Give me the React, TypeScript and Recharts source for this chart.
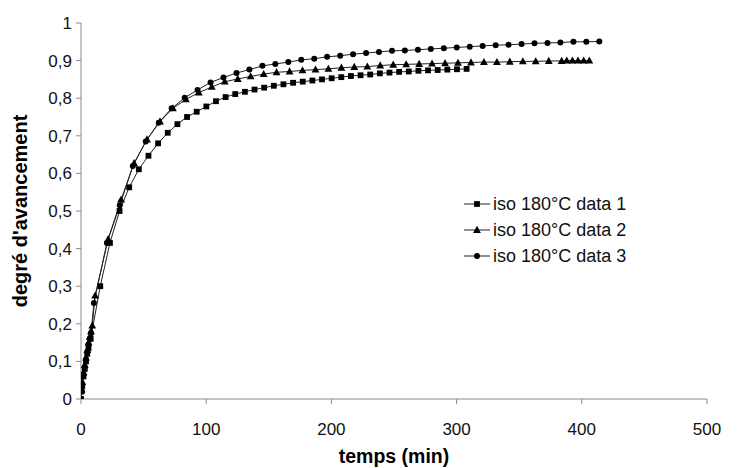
import React from 'react';
import { LineChart, Line, XAxis, YAxis, Label } from 'recharts';

const xTicks = [0, 100, 200, 300, 400, 500];
const yTicks = [0, 0.1, 0.2, 0.3, 0.4, 0.5, 0.6, 0.7, 0.8, 0.9, 1];
const seriesNames = ['iso 180°C data 1', 'iso 180°C data 2', 'iso 180°C data 3'];
const xTitle = 'temps (min)';
const yTitle = "degré d'avancement";

const times1 = [0, 0.5, 1, 2, 3, 4, 5, 6, 7.7, 15.4, 23.1, 30.8, 38.5, 46.2, 53.9, 61.6, 69.3, 77, 84.7, 92.4, 100.1, 107.8, 115.5, 123.2, 130.9, 138.6, 146.3, 154, 161.7, 169.4, 177.1, 184.8, 192.5, 200.2, 207.9, 215.6, 223.3, 231, 238.7, 246.4, 254.1, 261.8, 269.5, 277.2, 284.9, 292.6, 300.3, 308];
const values1 = [0, 0.02, 0.035, 0.06, 0.08, 0.1, 0.12, 0.135, 0.16, 0.3, 0.415, 0.5, 0.563, 0.611, 0.647, 0.68, 0.708, 0.731, 0.75, 0.764, 0.778, 0.792, 0.803, 0.811, 0.817, 0.823, 0.828, 0.833, 0.837, 0.841, 0.844, 0.847, 0.85, 0.853, 0.856, 0.859, 0.861, 0.863, 0.866, 0.868, 0.87, 0.871, 0.873, 0.874, 0.875, 0.876, 0.877, 0.878];

const times2 = [0, 0.5, 1, 2, 3, 4, 5, 6, 7, 8, 9, 11.3, 21.7, 32, 42.4, 52.7, 63.1, 73.4, 83.8, 94.1, 104.5, 114.8, 125.2, 135.5, 145.9, 156.2, 166.6, 176.9, 187.3, 197.6, 208, 218.3, 228.7, 239, 249.4, 259.7, 270.1, 280.4, 290.8, 301.1, 311.5, 321.8, 332.2, 342.5, 352.9, 363.2, 373.6, 383.9, 388, 392.5, 397, 401.5, 406];
const values2 = [0, 0.025, 0.045, 0.07, 0.09, 0.11, 0.13, 0.15, 0.165, 0.18, 0.195, 0.275, 0.425, 0.53, 0.627, 0.69, 0.738, 0.773, 0.797, 0.815, 0.83, 0.844, 0.851, 0.858, 0.864, 0.869, 0.871, 0.874, 0.876, 0.878, 0.881, 0.883, 0.884, 0.887, 0.889, 0.89, 0.891, 0.892, 0.893, 0.894, 0.895, 0.896, 0.896, 0.897, 0.898, 0.898, 0.899, 0.899, 0.9, 0.9, 0.9, 0.9, 0.9];

const times3 = [0, 0.5, 1, 2, 3, 4, 5, 6, 7, 8, 10.3, 20.7, 31, 41.4, 51.7, 62.1, 72.4, 82.8, 93.1, 103.5, 113.8, 124.2, 134.5, 144.9, 155.2, 165.6, 175.9, 186.3, 196.6, 207, 217.3, 227.7, 238, 248.4, 258.7, 269.1, 279.4, 289.8, 300.1, 310.5, 320.8, 331.2, 341.5, 351.9, 362.2, 372.6, 382.9, 393.3, 403.6, 414];
const values3 = [0, 0.02, 0.04, 0.065, 0.085, 0.105, 0.125, 0.145, 0.16, 0.175, 0.255, 0.415, 0.515, 0.62, 0.685, 0.735, 0.773, 0.801, 0.822, 0.842, 0.855, 0.867, 0.876, 0.886, 0.891, 0.896, 0.902, 0.905, 0.91, 0.913, 0.917, 0.92, 0.923, 0.926, 0.927, 0.929, 0.931, 0.933, 0.935, 0.937, 0.939, 0.941, 0.942, 0.944, 0.946, 0.947, 0.948, 0.95, 0.95, 0.951];

const zip = (ts: number[], vs: number[]) => ts.map((t, i) => ({ t, v: vs[i] }));
const data1 = zip(times1, values1);
const data2 = zip(times2, values2);
const data3 = zip(times3, values3);

const FONT = '"Liberation Sans", Arial, sans-serif';
const LINE_COLOR = '#222';
const AXIS_COLOR = '#8a8a8a';

const SquareDot = (p: any) => {
  if (p.cx == null || p.cy == null) return <g key={p.index} />;
  return <rect key={p.index} x={p.cx - 2.9} y={p.cy - 2.9} width={5.8} height={5.8} fill="#000" />;
};
const TriDot = (p: any) => {
  if (p.cx == null || p.cy == null) return <g key={p.index} />;
  const { cx, cy } = p;
  return (
    <polygon
      key={p.index}
      points={`${cx},${cy - 4.2} ${cx - 3.9},${cy + 2.9} ${cx + 3.9},${cy + 2.9}`}
      fill="#000"
    />
  );
};
const CircleDot = (p: any) => {
  if (p.cx == null || p.cy == null) return <g key={p.index} />;
  return <circle key={p.index} cx={p.cx} cy={p.cy} r={3} fill="#000" />;
};

const YTitle = (props: any) => {
  const vb = props.viewBox || { y: 23, height: 376 };
  const cx = 20;
  const cy = vb.y + vb.height / 2;
  return (
    <text
      x={cx}
      y={cy}
      transform={`rotate(-90 ${cx} ${cy})`}
      textAnchor="middle"
      dominantBaseline="central"
      fontFamily={FONT}
      fontWeight="bold"
      fontSize={20}
      fill="#000"
    >
      {yTitle}
    </text>
  );
};

const XTitle = (props: any) => {
  const vb = props.viewBox || { x: 81, width: 626 };
  const cx = vb.x + vb.width / 2;
  return (
    <text
      x={cx}
      y={463}
      textAnchor="middle"
      fontFamily={FONT}
      fontWeight="bold"
      fontSize={19.5}
      fill="#000"
    >
      {xTitle}
    </text>
  );
};

const LegendSymbol = ({ kind }: { kind: number }) => (
  <svg width={26} height={12} style={{ display: 'block' }}>
    <line x1={0} y1={6} x2={26} y2={6} stroke={LINE_COLOR} strokeWidth={1} />
    {kind === 0 && <rect x={10.1} y={3.1} width={5.8} height={5.8} fill="#000" />}
    {kind === 1 && <polygon points="13,1.8 9.1,8.9 16.9,8.9" fill="#000" />}
    {kind === 2 && <circle cx={13} cy={6} r={3} fill="#000" />}
  </svg>
);

export default function App() {
  return (
    <div style={{ position: 'absolute', left: 0, top: 0, width: 746, height: 468, background: '#fff' }}>
      <LineChart
        width={746}
        height={468}
        margin={{ top: 23, right: 39, left: 21, bottom: 29 }}
      >
        <XAxis
          type="number"
          dataKey="t"
          domain={[0, 500]}
          ticks={xTicks}
          allowDataOverflow
          height={40}
          tickSize={5}
          tickMargin={19}
          stroke={AXIS_COLOR}
          tick={{ fill: '#111', fontSize: 17, fontFamily: FONT }}
          tickLine={{ stroke: AXIS_COLOR }}
          axisLine={{ stroke: AXIS_COLOR }}
        >
          <Label content={XTitle} />
        </XAxis>
        <YAxis
          type="number"
          dataKey="v"
          domain={[0, 1]}
          ticks={yTicks}
          allowDataOverflow
          width={60}
          tickSize={5}
          tickMargin={4}
          stroke={AXIS_COLOR}
          tick={{ fill: '#111', fontSize: 17, fontFamily: FONT }}
          tickLine={{ stroke: AXIS_COLOR }}
          axisLine={{ stroke: AXIS_COLOR }}
          tickFormatter={(v: number) => String(v).replace('.', ',')}
        >
          <Label content={YTitle} />
        </YAxis>
        <Line
          data={data1}
          dataKey="v"
          name={seriesNames[0]}
          type="linear"
          stroke={LINE_COLOR}
          strokeWidth={1}
          dot={SquareDot}
          activeDot={false}
          isAnimationActive={false}
        />
        <Line
          data={data2}
          dataKey="v"
          name={seriesNames[1]}
          type="linear"
          stroke={LINE_COLOR}
          strokeWidth={1}
          dot={TriDot}
          activeDot={false}
          isAnimationActive={false}
        />
        <Line
          data={data3}
          dataKey="v"
          name={seriesNames[2]}
          type="linear"
          stroke={LINE_COLOR}
          strokeWidth={1}
          dot={CircleDot}
          activeDot={false}
          isAnimationActive={false}
        />
      </LineChart>
      <div style={{ position: 'absolute', left: 464, top: 191, fontFamily: FONT, fontSize: 18, color: '#111' }}>
        {seriesNames.map((n, i) => (
          <div key={n} style={{ display: 'flex', alignItems: 'center', height: 26, whiteSpace: 'nowrap' }}>
            <LegendSymbol kind={i} />
            <span style={{ marginLeft: 3 }}>{n}</span>
          </div>
        ))}
      </div>
    </div>
  );
}
